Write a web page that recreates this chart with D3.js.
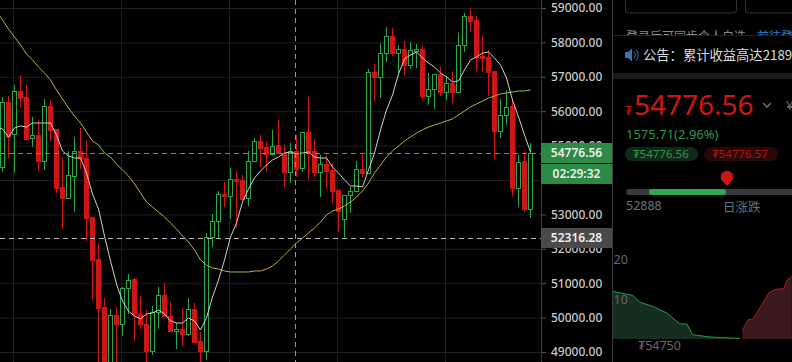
<!DOCTYPE html>
<html>
<head>
<meta charset="utf-8">
<script src="https://cdn.jsdelivr.net/npm/d3@7"></script>
<style>
  html, body { margin: 0; padding: 0; background: #000; overflow: hidden; }
  svg { display: block; }
  text { font-family: "Noto Sans", "Noto Sans CJK SC", sans-serif; }
</style>
</head>
<body>
<svg id="chart" width="792" height="362"></svg>
<script>
// candles, oldest first
const opens = [54378,56268,55338,56588,56413,55221,55309,54553,56152,55483,53797,53477,54117,54843,54640,52925,51704,50308,48332,50076,49814,50861,51122,50105,49814,49029,50163,50657,50047,49611,49669,49524,50250,49320,49029,52343,52809,53593,53535,54029,54000,53477,54553,55134,54960,54756,55018,54785,54233,54843,54349,55396,54843,54233,54466,54291,53710,52867,53564,53681,54320,54204,57140,56995,57692,58186,57692,57809,57343,57750,57809,56442,56646,57082,56559,56820,56559,57925,58768,58652,57605,57576,57169,55425,55890,56152,53768,54553,53157];
const closes = [56268,55250,56588,56384,55192,55309,54553,56152,55454,53768,53477,54146,54843,54640,52896,51675,50279,48332,50076,49814,50861,51093,50105,49814,49029,50163,50657,50047,49611,49669,49524,50250,49291,49029,52343,52809,53593,53535,54029,53971,53448,54553,55134,54931,54756,54989,54785,54233,54843,54320,55396,54814,54233,54466,54262,53681,53099,53564,53681,54320,54204,57140,56995,57692,58186,57692,57809,57343,57780,57809,56442,56646,57082,56559,56820,56559,57925,58768,58623,57576,57547,57140,55425,55890,56123,53768,54524,53157,54776.56];
const highs = [56413,56442,56762,57053,56762,55832,55745,56355,56326,55483,54640,54843,55250,55512,55163,52925,52140,50570,50250,50308,50890,51268,51151,50628,50221,50337,50890,51006,50454,49843,50279,50570,50425,49582,52460,53012,53681,53942,54349,54262,54146,54843,55221,55309,55105,55454,55745,55018,55076,55309,55396,56413,55192,54727,54727,54495,53710,53564,53797,54553,54756,57227,57372,57983,58448,58419,57925,58041,58012,57954,57896,57111,57082,57285,57024,57140,58274,58855,59000,58768,58186,57780,57169,56355,56617,56326,54727,54814,55076];
const lows = [54233,54640,54204,56093,55192,54960,54262,54291,55134,53623,52576,53477,53070,54320,52227,50512,48186,48186,48186,48186,49465,50105,49320,49669,48186,48913,49669,50018,49582,49087,49175,49465,49262,48186,48768,52053,52314,53215,52867,52605,53419,53244,54553,54378,54233,54756,54785,53797,53913,54088,54233,54000,54088,53506,53768,53332,52489,52343,53041,53681,54058,54204,56268,56384,57431,57605,57053,57024,57227,57256,56326,56181,56064,56442,56326,56239,56530,57721,58303,57169,57140,56442,54611,55221,55599,53535,53215,53070,52896];

// moving averages, first value sits one candle left of the first candle
const maWhite = [55541,55483,55250,55512,55570,55541,55657,55657,55657,55657,55309,54843,54698,54640,54640,54204,53593,53157,52372,51646,50977,50483,50192,50047,49959,50105,50134,50221,50105,49902,49843,49843,49989,49902,49640,49989,50599,51093,51675,52343,52750,53361,53739,54058,54262,54437,54582,54669,54785,54814,54756,54785,54814,54669,54640,54640,54378,54204,54000,53826,53826,53797,54291,54785,55454,56035,56471,57082,57518,57634,57721,57547,57402,57285,57111,56995,56849,56878,57198,57489,57576,57692,57721,57547,57343,56966,56326,55832,55309,54814];
const maYellow = [58913,58652,58390,58157,57925,57663,57489,57285,57111,56907,56617,56355,56093,55861,55657,55396,55134,55018,54785,54669,54466,54291,54117,53884,53623,53361,53215,53070,52925,52750,52576,52372,52196,51966,51675,51530,51442,51413,51355,51326,51326,51326,51326,51355,51355,51413,51500,51646,51820,51995,52169,52314,52460,52605,52779,52983,53099,53157,53244,53361,53506,53681,53913,54204,54437,54669,54843,54989,55134,55250,55367,55454,55541,55599,55657,55715,55774,55890,56006,56123,56210,56297,56384,56442,56500,56530,56559,56588,56588,56617];

const yTicks = [59000,58000,57000,56000,55000,54000,53000,52000,51000,50000,49000];
const gridCandles = [1.83,19.83,37.83,55.83,73.83];
const lastPrice = 54776.56;
const crossPrice = 52316.28;
const crossCandle = 48.83;
const countdown = "02:29:32";

// depth panel
const bidPrices = [54735.6,54741.9,54744.2,54748.3,54752.8,54757,54759.2,54761.1,54766.6,54776.2];
const bidSizes = [11.9,10.9,9.2,8.15,6.5,3.8,3.75,1.08,0.5,0.15];
const askPrices = [54777,54778.8,54780.4,54785.6,54787.4,54790.3,54791.1,54792.8];
const askSizes = [2.15,4.8,5,11.65,12.4,12.6,14.6,15.65];
const depthTicks = [20,10];

const GREEN = "#2aa84f", RED = "#cf1616";

const svg = d3.select("#chart");
svg.append("rect").attr("width", 792).attr("height", 362).attr("fill", "#000");

svg.append("defs").append("clipPath").attr("id", "plot")
  .append("rect").attr("width", 541).attr("height", 362);
svg.select("defs").append("clipPath").attr("id", "login")
  .append("rect").attr("x", 613).attr("y", 0).attr("width", 179).attr("height", 35);

const x = d3.scaleLinear().domain([0, 88]).range([2.5, 530.5]);
const y = d3.scaleLinear().domain([59000, 49000]).range([8, 352]);

const plot = svg.append("g").attr("clip-path", "url(#plot)");

// grid
plot.selectAll("line.h").data(yTicks).enter().append("line")
  .attr("class", "h")
  .attr("x1", 0).attr("x2", 541)
  .attr("y1", d => y(d) + .5).attr("y2", d => y(d) + .5)
  .attr("stroke", "#1f1f1f");
plot.selectAll("line.v").data(gridCandles).enter().append("line")
  .attr("class", "v")
  .attr("x1", d => x(d)).attr("x2", d => x(d))
  .attr("y1", 0).attr("y2", 362)
  .attr("stroke", "#1f1f1f");

// candles
const candles = opens.map((o, i) => ({ i, o, c: closes[i], h: highs[i], l: lows[i] }));
const isUp = d => d.c >= d.o;

const g = plot.selectAll("g.candle").data(candles).enter().append("g").attr("class", "candle");
g.append("line")
  .attr("x1", d => x(d.i)).attr("x2", d => x(d.i))
  .attr("y1", d => y(d.h)).attr("y2", d => y(d.l))
  .attr("stroke", d => isUp(d) ? GREEN : RED);
// green ones are hollow, the wick must not show through
g.append("rect")
  .attr("x", d => x(d.i) - 2)
  .attr("width", 4)
  .attr("y", d => Math.round(y(Math.max(d.o, d.c))) + .5)
  .attr("height", d => Math.max(1, Math.round(Math.abs(y(d.o) - y(d.c)))))
  .attr("fill", d => isUp(d) ? "#000" : RED)
  .attr("stroke", d => isUp(d) ? GREEN : RED);

// averages
const maLine = d3.line().x((d, i) => x(i - 1)).y(d => y(d));
plot.append("path").attr("d", maLine(maYellow)).attr("fill", "none")
  .attr("stroke", "#bfb032").attr("stroke-width", 1);
plot.append("path").attr("d", maLine(maWhite)).attr("fill", "none")
  .attr("stroke", "#cfcfcf").attr("stroke-width", 1);

// last price + crosshair
plot.append("line").attr("x1", 0).attr("x2", 541)
  .attr("y1", Math.round(y(lastPrice)) + .5).attr("y2", Math.round(y(lastPrice)) + .5)
  .attr("stroke", "#3fa765").attr("stroke-dasharray", "5,4");
plot.append("line").attr("x1", 0).attr("x2", 541)
  .attr("y1", Math.round(y(crossPrice)) + .5).attr("y2", Math.round(y(crossPrice)) + .5)
  .attr("stroke", "#b5b5b5").attr("stroke-dasharray", "5,4");
plot.append("line").attr("x1", x(crossCandle)).attr("x2", x(crossCandle))
  .attr("y1", 0).attr("y2", 362)
  .attr("stroke", "#9a9a9a").attr("stroke-dasharray", "5,4");

// price axis
const axis = svg.append("g").attr("transform", "translate(541,0)")
  .call(d3.axisRight(y).tickValues(yTicks).tickSize(5).tickPadding(5).tickFormat(d3.format(".2f")));
axis.select(".domain").remove();
axis.selectAll("line").attr("stroke", "#555");
axis.selectAll("text").attr("fill", "#c8c8c8")
  .style("font-size", "12px").style("font-weight", 500)
  .style("font-family", '"Noto Sans", sans-serif');
svg.append("line").attr("x1", 541.5).attr("x2", 541.5).attr("y1", 0).attr("y2", 362).attr("stroke", "#3c3c3c");
svg.append("line").attr("x1", 612.5).attr("x2", 612.5).attr("y1", 0).attr("y2", 362).attr("stroke", "#3c3c3c");

const flag = (top, h, fill, label, fs) => {
  svg.append("rect").attr("x", 541).attr("y", top).attr("width", 71).attr("height", h).attr("fill", fill);
  svg.append("text").attr("x", 576.5).attr("y", top + h / 2 + 4.3).attr("text-anchor", "middle")
    .attr("fill", "#eee").style("font-size", fs + "px").style("font-weight", 600).text(label);
};
flag(143, 20, "#2a8a46", d3.format(".2f")(lastPrice), 12);
flag(164, 20, "#2a8a46", countdown, 12);
flag(228, 20, "#4a4a4a", d3.format(".2f")(crossPrice), 12);

// right panel, top
const cjk = '"Noto Sans CJK SC", sans-serif';
svg.append("rect").attr("x", 625.5).attr("y", -8).attr("width", 111).attr("height", 21).attr("rx", 3)
  .attr("fill", "none").attr("stroke", "#333");
svg.append("rect").attr("x", 745.5).attr("y", -8).attr("width", 70).attr("height", 21).attr("rx", 3)
  .attr("fill", "none").attr("stroke", "#333");
const login = svg.append("g").attr("clip-path", "url(#login)");
login.append("text").attr("x", 626).attr("y", 41).attr("fill", "#8a8a8a")
  .style("font-size", "12px").style("font-family", cjk).text("登录后可同步个人自选");
login.append("text").attr("x", 757).attr("y", 41).attr("fill", "#2f7fd6")
  .style("font-size", "12px").style("font-family", cjk).text("前往登录");
svg.append("line").attr("x1", 613).attr("x2", 792).attr("y1", 35.5).attr("y2", 35.5).attr("stroke", "#222");

// speaker icon
svg.append("path").attr("d", "M625 52h3l4-3.5v13l-4-3.5h-3z").attr("fill", "#3b72b0");
svg.append("path").attr("d", "M634 51.5a5 5 0 0 1 0 7M636 49.5a8 8 0 0 1 0 11").attr("fill", "none").attr("stroke", "#3b72b0");
svg.append("text").attr("x", 643).attr("y", 60).attr("fill", "#dcdcdc")
  .style("font-size", "13.3px").style("font-family", cjk).text("公告：累计收益高达2189");
svg.append("rect").attr("x", 613).attr("y", 73).attr("width", 179).attr("height", 6).attr("fill", "#1a1a1a");

// quote block
svg.append("text").attr("x", 625).attr("y", 115).attr("fill", RED).style("font-size", "13px").text("₮");
svg.append("text").attr("x", 634).attr("y", 115).attr("fill", RED).style("font-size", "28px").text(d3.format(".2f")(lastPrice));
svg.append("path").attr("d", "M763 103l4 4 4-4").attr("fill", "none").attr("stroke", "#777").attr("stroke-width", 1.3);
svg.append("text").attr("x", 786).attr("y", 110).attr("fill", "#666").style("font-size", "13px").text("¥");
svg.append("text").attr("x", 626).attr("y", 139).attr("fill", "#2b9a4b").style("font-size", "13px").text("1575.71(2.96%)");

const pill = (px, w, fill, color, label) => {
  svg.append("rect").attr("x", px).attr("y", 147).attr("width", w).attr("height", 14).attr("rx", 7).attr("fill", fill);
  svg.append("text").attr("x", px + 8).attr("y", 158).attr("fill", color).style("font-size", "11.5px").text(label);
};
pill(625, 73, "#11291a", "#2b9a4b", "₮54776.56");
pill(704, 74, "#2b0808", "#b01616", "₮54776.57");

// day range bar
svg.append("rect").attr("x", 626).attr("y", 189).attr("width", 170).attr("height", 6).attr("rx", 3).attr("fill", "#3a3a3a");
svg.append("rect").attr("x", 649).attr("y", 189).attr("width", 77).attr("height", 6).attr("rx", 3).attr("fill", "#2fa852");
svg.append("path").attr("d", "M727 186l-5-5.5a6.2 6.2 0 1 1 10 0z").attr("fill", RED);
svg.append("text").attr("x", 626).attr("y", 210).attr("fill", "#66717c").style("font-size", "12.5px").text("52888");
svg.append("text").attr("x", 723).attr("y", 212).attr("fill", "#66717c")
  .style("font-size", "12.5px").style("font-family", cjk).text("日涨跌");

// depth
const dx = d3.scaleLinear().domain([54750, 54776.56]).range([658, 741]);
const dy = d3.scaleLinear().domain([0, 20]).range([339, 259]);
const depthArea = d3.area().x(d => dx(d[0])).y0(dy(0)).y1(d => dy(d[1]));
const depthLine = d3.line().x(d => dx(d[0])).y(d => dy(d[1]));
const bids = bidPrices.map((p, i) => [p, bidSizes[i]]);
const asks = askPrices.map((p, i) => [p, askSizes[i]]);
svg.append("path").attr("d", depthArea(bids)).attr("fill", "#152e20");
svg.append("path").attr("d", depthLine(bids)).attr("fill", "none").attr("stroke", "#2a9a4a");
svg.append("path").attr("d", depthArea(asks)).attr("fill", "#3a1a1c");
svg.append("path").attr("d", depthLine(asks)).attr("fill", "none").attr("stroke", "#b01a1a");
svg.selectAll("text.dt").data(depthTicks).enter().append("text")
  .attr("class", "dt")
  .attr("x", 613.5).attr("y", d => dy(d) + 5)
  .attr("fill", "#666").style("font-size", "12.5px").text(d => d);
svg.append("text").attr("x", 638).attr("y", 350).attr("fill", "#6a6a6a").style("font-size", "12.5px").text("₮54750");
</script>
</body>
</html>
